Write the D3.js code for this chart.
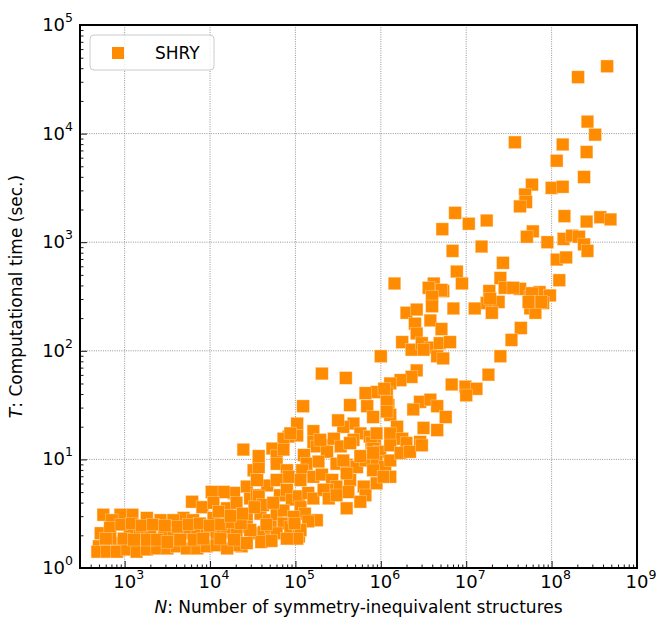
<!DOCTYPE html>
<html>
<head>
<meta charset="utf-8">
<script src="https://cdn.jsdelivr.net/npm/d3@7"></script>
<style>
  body { margin: 0; background: #fff; }
  text { font-family: "DejaVu Sans", sans-serif; fill: #000; }
</style>
</head>
<body>
<div id="chart"></div>
<script>
// points: [log10 N, log10 T]
const shryPoints = [
  [8.65,4.62],[8.31,4.52],[8.42,4.11],[8.51,3.99],[7.57,3.92],[8.13,3.90],[8.41,3.83],[8.06,3.75],[8.38,3.60],[7.77,3.53],
  [8.00,3.50],[8.13,3.51],[7.69,3.44],[7.70,3.37],[7.63,3.33],[6.87,3.27],[8.15,3.24],[8.57,3.23],[8.69,3.21],[8.41,3.19],
  [7.24,3.20],[7.03,3.17],[6.72,3.12],[7.78,3.10],[7.71,3.05],[7.95,3.00],[8.14,3.03],[8.24,3.06],[8.32,3.05],[8.38,2.98],
  [8.42,2.92],[7.18,2.96],[6.84,2.92],[8.06,2.84],[8.17,2.86],[7.43,2.81],[6.89,2.73],[6.95,2.62],[6.73,2.55],[7.40,2.67],
  [8.09,2.65],[7.27,2.55],[7.45,2.58],[7.63,2.57],[7.75,2.50],[7.86,2.54],[7.98,2.51],[7.90,2.44],[7.24,2.44],[7.38,2.45],
  [7.10,2.39],[7.30,2.35],[7.75,2.39],[7.81,2.35],[6.85,2.39],[7.55,2.58],[7.77,2.53],[7.73,2.45],[7.88,2.45],[7.28,2.48],
  [6.16,2.62],[6.62,2.62],[6.56,2.58],[6.71,2.56],[6.60,2.50],[6.60,2.41],[6.58,2.28],[6.30,2.35],[6.42,2.38],[6.40,2.25],
  [6.42,2.16],[6.71,2.20],[7.64,2.21],[7.53,2.10],[6.25,2.08],[6.36,2.01],[6.48,2.07],[6.58,2.03],[6.69,2.07],[6.81,2.08],
  [6.50,2.01],[6.66,1.95],[6.73,1.93],[6.00,1.95],[7.40,1.95],[6.42,1.82],[6.36,1.76],[6.23,1.73],[6.11,1.70],[6.07,1.61],
  [6.09,1.50],[6.11,1.41],[5.59,1.75],[5.31,1.79],[7.26,1.78],[6.83,1.69],[6.99,1.67],[7.12,1.65],[7.00,1.59],[5.95,1.62],
  [5.82,1.61],[6.04,1.65],[6.46,1.53],[6.58,1.55],[6.66,1.49],[6.38,1.46],[5.64,1.50],[5.84,1.49],[5.91,1.39],[6.76,1.39],
  [6.66,1.27],[6.50,1.29],[6.19,1.30],[6.11,1.24],[6.25,1.19],[6.30,1.15],[5.68,1.33],[5.56,1.30],[5.76,1.24],[5.68,1.18],
  [5.87,1.21],[5.93,1.13],[6.46,1.16],[5.50,1.36],[5.21,1.26],[5.21,1.16],[5.33,1.13],[5.45,1.19],[5.53,1.12],[5.89,1.15],
  [5.09,1.49],[5.02,1.33],[5.02,1.22],[4.92,1.21],
  [6.07,1.53],[6.07,1.44],[5.95,1.24],[5.91,1.10],[5.99,1.07],[6.11,1.13],[4.86,1.19],[4.73,1.10],[4.78,1.03],[4.86,1.09],
  [5.25,1.12],[5.37,1.07],[5.64,1.15],[5.10,1.04],[5.13,0.96],[5.08,0.90],[5.27,0.98],[5.48,0.96],[5.60,0.95],[5.72,0.93],
  [5.82,0.99],[5.95,0.98],[6.05,0.93],[6.11,0.84],[5.91,0.90],[4.39,1.09],[4.51,0.90],[4.57,0.93],[4.78,0.96],[4.90,0.90],
  [4.92,0.84],[5.06,0.81],[5.21,0.84],[5.31,0.86],[5.43,0.81],[5.48,0.75],[5.37,0.72],[5.64,0.81],[5.62,0.70],[5.60,0.55],
  [5.80,0.75],[5.82,0.67],[4.43,0.75],[4.47,0.64],[4.55,0.67],[4.67,0.76],[4.78,0.81],[4.57,0.66],[4.82,0.67],[4.90,0.72],
  [4.96,0.63],[5.04,0.66],[5.06,0.56],[5.15,0.69],[5.21,0.64],[5.25,0.44],[5.33,0.72],[5.39,0.64],[5.48,0.67],[4.43,0.47],
  [4.59,0.50],[4.69,0.44],[4.78,0.49],[4.86,0.41],[4.43,0.38],[4.51,0.32],[4.63,0.33],[4.71,0.38],[4.78,0.32],[4.94,0.38],
  [5.04,0.29],[5.11,0.50],[5.15,0.43],[4.37,0.20],[4.86,0.53],
  [4.28,0.69],[4.55,0.81],[4.57,1.03],[4.94,1.24],[5.29,1.18],[5.06,0.35],[5.02,0.27],[4.31,0.21],
  [5.76,0.61],[5.95,0.78],[6.03,0.84],[6.11,0.99],[6.23,1.06],[6.34,1.07],[6.48,1.13],[5.60,0.87],[5.56,0.99],[5.76,1.03],
  [5.91,1.06],
  [4.62,0.58],[4.74,0.60],[4.98,0.47],[4.60,0.24],[4.72,0.25],[4.90,0.27],[4.52,0.56],[4.66,0.40],[4.99,0.41],
  [2.75,0.49],[4.16,0.70],[4.02,0.70],[3.79,0.61],[3.91,0.56],[4.04,0.60],[4.20,0.55],[4.31,0.60],[3.69,0.46],[3.57,0.44],
  [3.09,0.49],[2.95,0.49],[2.85,0.44],[3.42,0.44],[3.26,0.46],[2.72,0.32],[2.83,0.37],[2.70,0.20],[2.83,0.20],[2.95,0.23],
  [3.06,0.35],[3.18,0.32],[3.30,0.35],[3.46,0.32],[3.57,0.30],[3.73,0.32],[3.85,0.33],[3.96,0.35],[4.08,0.32],[4.20,0.33],
  [4.31,0.32],[4.47,0.35],[2.68,0.15],[2.79,0.15],[2.91,0.15],[3.03,0.17],[3.14,0.15],[3.26,0.17],[3.38,0.18],[3.50,0.18],
  [3.61,0.20],[3.73,0.18],[3.85,0.18],[3.96,0.20],[4.08,0.21],[4.20,0.18],[4.43,0.23],[2.83,0.27],[2.99,0.27],[3.11,0.26],
  [3.26,0.26],[3.38,0.26],[3.50,0.24],[3.65,0.26],[3.81,0.26],[3.92,0.27],[4.12,0.27],[4.28,0.26],[4.04,0.46],[3.80,0.44],
  [2.96,0.40],[3.08,0.41],[3.20,0.39],[3.33,0.40],[3.47,0.39],[3.62,0.38],[3.75,0.40],[3.88,0.41],[4.00,0.39],[4.13,0.40],
  [4.25,0.42],[4.36,0.41],[2.78,0.27],[4.38,0.50],[4.10,0.52],[4.24,0.48]
];

const xDecades = [3, 4, 5, 6, 7, 8, 9];
const yDecades = [0, 1, 2, 3, 4, 5];
const seriesName = 'SHRY';

const W = 656, H = 619;
const plotL = 80, plotT = 25, plotR = 637, plotB = 568;

const svg = d3.select('#chart').append('svg')
    .attr('width', W)
    .attr('height', H);

const x = d3.scaleLog().domain([300, 1e9]).range([plotL, plotR]);
const y = d3.scaleLog().domain([1, 1e5]).range([plotB, plotT]);

// grid at the decades
const grid = svg.append('g');
grid.selectAll('line.gx')
    .data(xDecades.slice(0, -1))
    .join('line')
    .attr('class', 'gx')
    .attr('x1', d => x(10 ** d)).attr('x2', d => x(10 ** d))
    .attr('y1', plotT).attr('y2', plotB)
    .attr('stroke', '#8a8a8a').attr('stroke-width', 0.9)
    .attr('stroke-dasharray', '1,1.3');
grid.selectAll('line.gy')
    .data(yDecades.slice(1, -1))
    .join('line')
    .attr('class', 'gy')
    .attr('y1', d => y(10 ** d)).attr('y2', d => y(10 ** d))
    .attr('x1', plotL).attr('x2', plotR)
    .attr('stroke', '#8a8a8a').attr('stroke-width', 0.9)
    .attr('stroke-dasharray', '1,1.3');

// the points
const s = 12.5;
svg.append('g')
    .selectAll('rect')
    .data(shryPoints)
    .join('rect')
    .attr('x', d => x(10 ** d[0]) - s / 2)
    .attr('y', d => y(10 ** d[1]) - s / 2)
    .attr('width', s)
    .attr('height', s)
    .attr('fill', '#ff8c00')
    .attr('stroke', '#ffd9ad')
    .attr('stroke-width', 0.4);

// inward ticks, major and minor
const xAxis = d3.axisBottom(x).tickSizeInner(-7).tickSizeOuter(0).tickFormat('');
const gx = svg.append('g').attr('transform', `translate(0,${plotB})`).call(xAxis);
const yAxis = d3.axisLeft(y).tickSizeInner(-7).tickSizeOuter(0).tickFormat('');
const gy = svg.append('g').attr('transform', `translate(${plotL},0)`).call(yAxis);
[gx, gy].forEach(g => {
    g.select('.domain').remove();
    g.selectAll('.tick line').attr('stroke', '#000').attr('stroke-width', 0.9);
});
gx.selectAll('.tick line')
    .attr('y2', d => Number.isInteger(Math.log10(d)) ? -7 : -3.5);
gy.selectAll('.tick line')
    .attr('x2', d => Number.isInteger(Math.log10(d)) ? 7 : 3.5);

// decade labels with superscripts
const xl = svg.append('g').selectAll('text')
    .data(xDecades)
    .join('text')
    .attr('x', d => x(10 ** d) + 4)
    .attr('y', 588)
    .attr('text-anchor', 'middle')
    .style('font-size', '18px');
xl.append('tspan').text('10');
xl.append('tspan').attr('dy', -9).style('font-size', '12.5px').text(d => d);

const yl = svg.append('g').selectAll('text')
    .data(yDecades)
    .join('text')
    .attr('x', 73)
    .attr('y', d => y(10 ** d) + 6)
    .attr('text-anchor', 'end')
    .style('font-size', '18px');
yl.append('tspan').text('10');
yl.append('tspan').attr('dy', -9).style('font-size', '12.5px').text(d => d);

// frame
svg.append('rect')
    .attr('x', plotL).attr('y', plotT)
    .attr('width', plotR - plotL).attr('height', plotB - plotT)
    .attr('fill', 'none').attr('stroke', '#000').attr('stroke-width', 2);

// axis titles
const xt = svg.append('text')
    .attr('x', (plotL + plotR) / 2)
    .attr('y', 613)
    .attr('text-anchor', 'middle')
    .style('font-size', '17px');
xt.append('tspan').style('font-style', 'italic').text('N');
xt.append('tspan').text(': Number of symmetry-inequivalent structures');

const yt = svg.append('text')
    .attr('transform', `translate(22,${(plotT + plotB) / 2}) rotate(-90)`)
    .attr('text-anchor', 'middle')
    .style('font-size', '17px');
yt.append('tspan').style('font-style', 'italic').text('T');
yt.append('tspan').text(': Computational time (sec.)');

// legend
const lg = svg.append('g');
lg.append('rect')
    .attr('x', 90).attr('y', 35)
    .attr('width', 124).attr('height', 35)
    .attr('rx', 4)
    .attr('fill', 'rgba(255,255,255,0.8)')
    .attr('stroke', '#cccccc').attr('stroke-width', 1);
lg.append('rect')
    .attr('x', 112).attr('y', 47)
    .attr('width', 12).attr('height', 12)
    .attr('fill', '#ff8c00');
lg.append('text')
    .attr('x', 155).attr('y', 59)
    .style('font-size', '17px')
    .text(seriesName);
</script>
</body>
</html>
